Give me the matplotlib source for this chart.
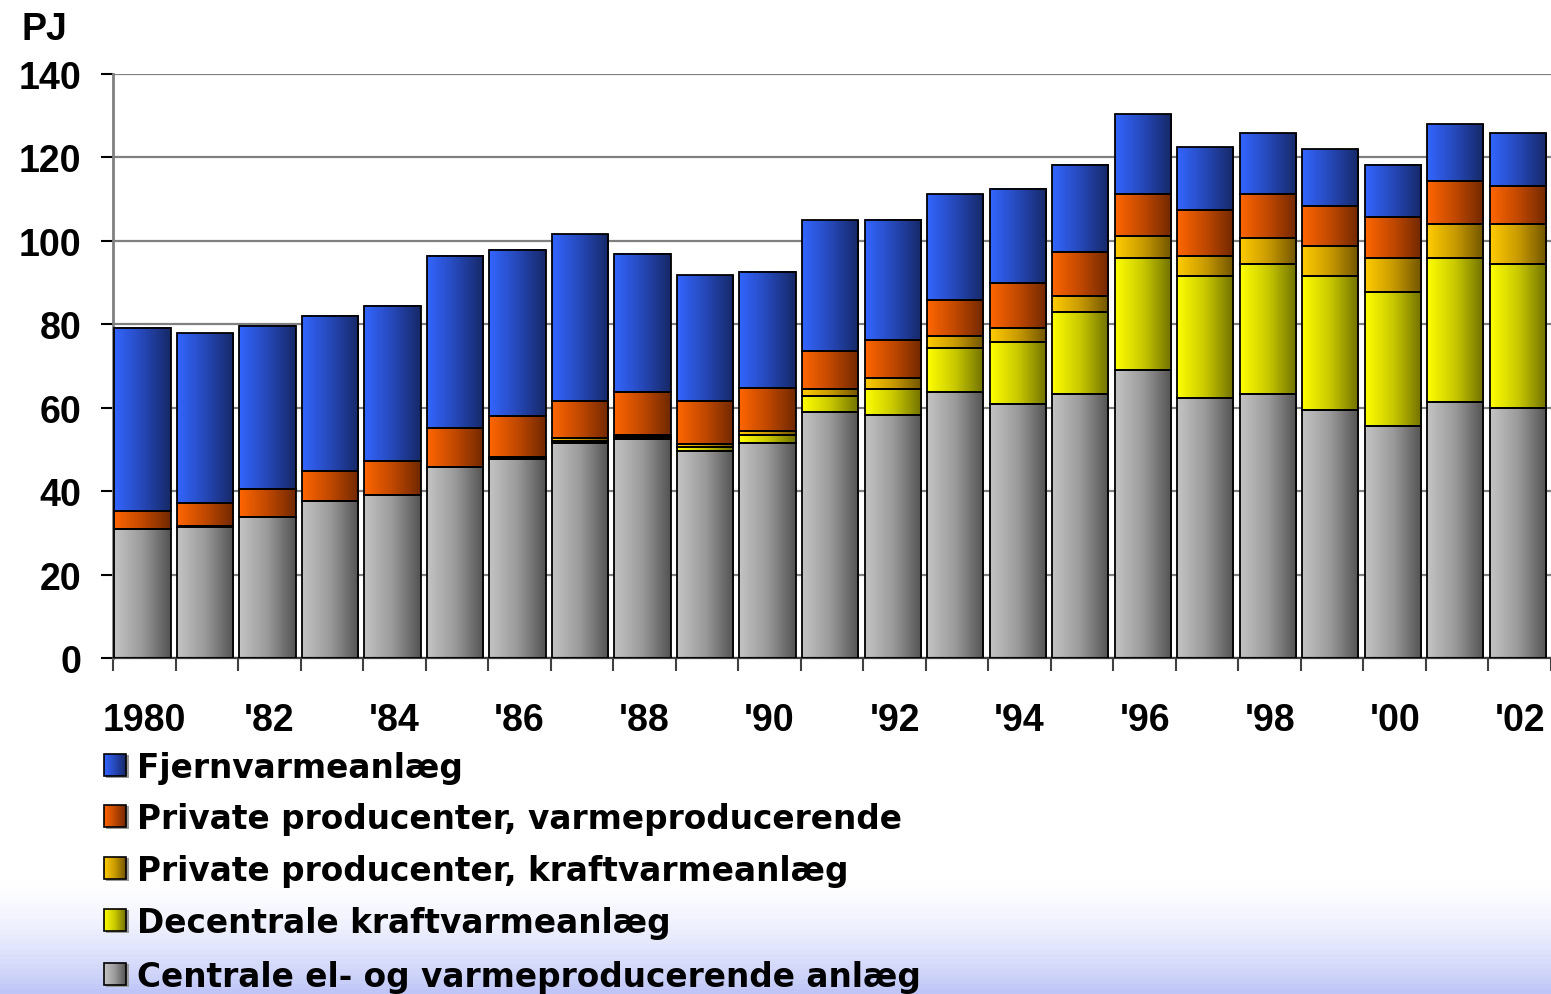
import numpy as np
import matplotlib
matplotlib.use("Agg")
import matplotlib.pyplot as plt
from matplotlib.colors import LinearSegmentedColormap

plt.rcParams['font.family'] = ['Liberation Sans', 'DejaVu Sans']
plt.rcParams['font.weight'] = 'bold'

# data (PJ)
years = list(range(1980, 2003))
tick_labels = ['1980', "'82", "'84", "'86", "'88", "'90", "'92", "'94", "'96", "'98", "'00", "'02"]

central = [30.9, 31.3, 33.7, 37.6, 39.0, 45.8, 47.7, 51.5, 52.5, 49.6, 51.5, 58.9,
           58.3, 63.7, 60.8, 63.2, 69.0, 62.3, 63.2, 59.4, 55.5, 61.3, 59.9]
decentral = [0.0, 0.2, 0.0, 0.0, 0.0, 0.0, 0.3, 0.6, 0.5, 1.0, 2.0, 3.8,
             6.3, 10.6, 14.9, 19.7, 26.8, 29.2, 31.3, 32.1, 32.2, 34.5, 34.6]
private_kraft = [0.0, 0.2, 0.0, 0.0, 0.0, 0.0, 0.3, 0.6, 0.5, 0.6, 1.0, 1.9,
                 2.5, 2.8, 3.4, 3.9, 5.4, 4.9, 6.3, 7.3, 8.1, 8.2, 9.6]
private_varme = [4.3, 5.5, 6.8, 7.2, 8.2, 9.3, 9.6, 9.0, 10.2, 10.5, 10.2, 9.0,
                 9.1, 8.7, 10.7, 10.5, 10.1, 11.1, 10.5, 9.6, 9.8, 10.3, 9.1]
fjernvarme = [43.9, 40.6, 39.2, 37.3, 37.3, 41.3, 39.9, 40.0, 33.2, 30.0, 27.9, 31.3,
              28.9, 25.4, 22.7, 21.0, 19.0, 15.1, 14.6, 13.6, 12.6, 13.6, 12.7]

series = [
    ('Centrale el- og varmeproducerende anlæg', central, ('#c4c4c4', '#9a9a9a', '#525252')),
    ('Decentrale kraftvarmeanlæg', decentral, ('#ffff00', '#c8c800', '#707000')),
    ('Private producenter, kraftvarmeanlæg', private_kraft, ('#ffcc00', '#c89a00', '#705400')),
    ('Private producenter, varmeproducerende', private_varme, ('#ff6600', '#c04800', '#702800')),
    ('Fjernvarmeanlæg', fjernvarme, ('#3366ff', '#2648b8', '#162866')),
]

W, H = 1551, 995
fig = plt.figure(figsize=(W / 100, H / 100), dpi=100)

# background: white fading into lavender at the bottom
bg = fig.add_axes([0, 0, 1, 1], zorder=0)
yy = np.linspace(0, 1, 200)
t = np.clip((0.115 - yy) / 0.115, 0, 1) ** 1.6
top_c = np.array([1.0, 1.0, 1.0])
bot_c = np.array([0.75, 0.78, 0.97])
col = top_c[None, :] * (1 - t[:, None]) + bot_c[None, :] * t[:, None]
bg.imshow(col[:, None, :].repeat(2, axis=1), extent=(0, 1, 0, 1), origin='lower', aspect='auto')
bg.set_xlim(0, 1)
bg.set_ylim(0, 1)
bg.axis('off')

ax = fig.add_axes([113 / W, 1 - 659 / H, 1 - 113 / W, (659 - 75) / H], zorder=1)
ax.set_facecolor('white')

x = np.arange(len(years))
width = 0.9
grad = np.linspace(0, 1, 256).reshape(1, -1)
bottom = np.zeros(len(years))
for name, vals, cols in series:
    vals = np.array(vals)
    cmap = LinearSegmentedColormap.from_list(name, cols)
    for xi, b, v in zip(x, bottom, vals):
        if v <= 0:
            continue
        x0 = xi - width / 2 - 0.03
        ax.imshow(grad, extent=(x0, x0 + width, b, b + v), aspect='auto',
                  cmap=cmap, zorder=2, interpolation='bicubic')
    ax.bar(x - 0.03, vals, width, bottom=bottom, facecolor='none',
           edgecolor='black', linewidth=1.3, zorder=3)
    bottom = bottom + vals

ax.set_xlim(-0.5, len(years) - 0.5)
ax.set_ylim(0, 140)
ax.set_yticks(np.arange(0, 141, 20))
ax.yaxis.grid(True, color='#808080', linewidth=1.6, zorder=1)
ax.set_axisbelow(True)

ax.set_xticks(np.arange(-0.5, len(years), 1.0))
ax.set_xticklabels([])
ax.set_xticks(np.arange(0, len(years), 2), minor=True)
ax.set_xticklabels(tick_labels, minor=True)
ax.tick_params(axis='x', which='major', length=9, width=1.5, color='#404040', direction='out')
ax.tick_params(axis='x', which='minor', length=0, pad=32, labelsize=27)
ax.tick_params(axis='y', length=9, width=1.5, color='black', pad=14, labelsize=27)

for s in ['top', 'right']:
    ax.spines[s].set_visible(False)
ax.spines['left'].set_color('#808080')
ax.spines['left'].set_linewidth(2)
ax.spines['bottom'].set_color('#404040')
ax.spines['bottom'].set_linewidth(1.6)

fig.text(22 / W, 1 - 30 / H, 'PJ', fontsize=27, fontweight='bold', va='center', ha='left')

# legend drawn in pixel coordinates; the original legend text is wide, so a wider bold face
lg = fig.add_axes([0, 0, 1, 1], zorder=2)
lg.set_xlim(0, W)
lg.set_ylim(H, 0)
lg.axis('off')
legend_y = [766, 817, 869, 921, 975]
for (name, vals, cols), yc in zip(series[::-1], legend_y):
    cmap = LinearSegmentedColormap.from_list(name + '_lg', cols)
    lg.add_patch(plt.Rectangle((106, yc - 10), 23, 23, facecolor='#9a9a9a', edgecolor='none'))
    lg.imshow(grad, extent=(104, 126, yc + 11, yc - 11), aspect='auto', cmap=cmap, zorder=3)
    lg.add_patch(plt.Rectangle((104, yc - 11), 22, 22, facecolor='none', edgecolor='black',
                               linewidth=1.2, zorder=4))
    lg.text(137, yc + 12, name, fontsize=23.6, fontweight='bold', family=['DejaVu Sans'],
            va='baseline', ha='left')
lg.set_xlim(0, W)
lg.set_ylim(H, 0)

fig.savefig('out.png', dpi=100)
